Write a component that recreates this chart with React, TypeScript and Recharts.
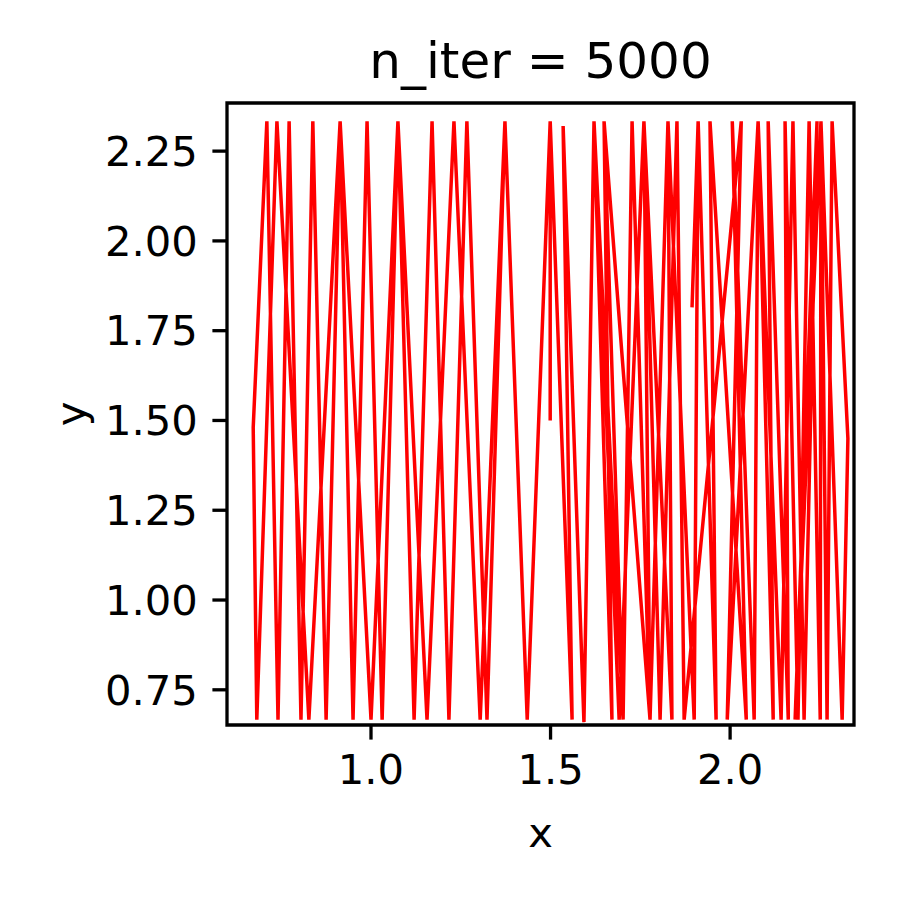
import { LineChart, Line, XAxis, YAxis, ReferenceArea } from "recharts";

// vertices of the trajectory, in drawing order
const pathX = [
  1.499,
  1.499, 1.435, 1.373, 1.323, 1.267, 1.217, 1.17, 1.12, 1.075, 1.031, 0.989, 0.95, 0.914, 0.875, 0.838, 0.805, 0.772, 0.741, 0.71,
  0.672,
  0.682, 0.738, 0.827, 0.914, 1.0, 1.075, 1.156, 1.231, 1.304, 1.373, 1.435, 1.499,
  1.56, 1.535, 1.593, 1.621, 1.671, 1.649, 1.702, 1.727, 1.777, 1.76, 1.838, 1.827, 1.9, 1.911, 1.961, 1.944, 2.045, 2.006,
  2.067, 2.078, 2.12, 2.106, 2.162, 2.153, 2.189, 2.22, 2.251, 2.253, 2.27, 2.284,
  2.328, 2.312,
  2.253, 2.181, 2.242, 2.206, 2.175, 2.142, 2.078, 1.992, 2.031, 1.872, 1.852, 1.805, 1.76, 1.691, 1.621, 1.702, 1.649, 1.777,
  1.827, 1.9, 1.911,
  1.894,
];

const pathY = [
  1.5,
  2.333, 0.667, 2.333, 0.667, 2.333, 0.667, 2.333, 0.667, 2.333, 0.667, 2.333, 0.667, 2.333, 0.667, 2.333, 0.667, 2.333, 0.667, 2.333,
  1.48,
  0.667, 2.333, 0.667, 2.333, 0.667, 2.333, 0.667, 2.333, 0.667, 2.333, 0.667, 2.333,
  0.667, 2.32, 0.66, 2.333, 0.667, 2.333, 0.667, 2.333, 0.667, 2.333, 0.667, 2.333, 0.667, 2.333, 0.667, 2.333, 0.667, 2.333,
  0.667, 2.333, 0.667, 2.333, 0.667, 2.333, 0.667, 2.333, 0.667, 2.333, 0.667, 2.333,
  1.45, 0.667,
  2.333, 0.667, 2.333, 0.667, 2.333, 0.667, 2.333, 0.667, 2.333, 0.667, 2.333, 0.667, 2.333, 0.667, 2.333, 0.667, 2.333, 0.667,
  2.333, 0.667, 2.333,
  1.815,
];

const xTicks = [1.0, 1.5, 2.0];
const yTicks = [0.75, 1.0, 1.25, 1.5, 1.75, 2.0, 2.25];
const xDomain = [0.599, 2.345];
const yDomain = [0.652, 2.384];

const FONT = "DejaVu Sans";
const tickStyle = { fontSize: 41.7, fill: "#000", fontFamily: FONT };

export default function App() {
  const data = pathX.map((x, i) => ({ x, y: pathY[i] }));

  return (
    <div style={{ position: "absolute", left: 0, top: 0, width: 900, height: 900, background: "#fff" }}>
      <svg width={900} height={100} style={{ position: "absolute", left: 0, top: 0 }}>
        <text x={540.5} y={78} textAnchor="middle" fontSize={50} fontFamily={FONT} fill="#000">
          n_iter = 5000
        </text>
      </svg>
      <LineChart
        width={900}
        height={900}
        data={data}
        margin={{ top: 103, right: 46, bottom: 0, left: 0 }}
        style={{ position: "absolute", left: 0, top: 0 }}
      >
        <XAxis
          dataKey="x"
          type="number"
          domain={xDomain}
          allowDataOverflow
          ticks={xTicks}
          tickFormatter={(v: number) => v.toFixed(1)}
          tick={tickStyle}
          tickSize={14.6}
          tickMargin={14.6}
          tickLine={{ stroke: "#000", strokeWidth: 3.3 }}
          axisLine={false}
          height={175}
          label={{
            content: (p: any) => (
              <text x={p.viewBox.x + p.viewBox.width / 2} y={847} textAnchor="middle" fontSize={41.7} fontFamily={FONT} fill="#000">
                x
              </text>
            ),
          }}
        />
        <YAxis
          dataKey="y"
          type="number"
          domain={yDomain}
          allowDataOverflow
          ticks={yTicks}
          tickFormatter={(v: number) => v.toFixed(2)}
          tick={tickStyle}
          tickSize={14.6}
          tickMargin={14.6}
          tickLine={{ stroke: "#000", strokeWidth: 3.3 }}
          axisLine={false}
          width={227}
          label={{
            content: (p: any) => {
              const cx = 70;
              const cy = p.viewBox.y + p.viewBox.height / 2;
              return (
                <text x={cx} y={cy} transform={`rotate(-90 ${cx} ${cy})`} textAnchor="middle" dominantBaseline="central"
                  fontSize={41.7} fontFamily={FONT} fill="#000">
                  y
                </text>
              );
            },
          }}
        />
        <Line
          type="linear"
          dataKey="y"
          stroke="#ff0000"
          strokeWidth={3.5}
          dot={false}
          activeDot={false}
          isAnimationActive={false}
        />
        {/* axes frame (all four spines) */}
        <ReferenceArea
          x1={xDomain[0]}
          x2={xDomain[1]}
          y1={yDomain[0]}
          y2={yDomain[1]}
          fill="none"
          fillOpacity={0}
          stroke="#000"
          strokeWidth={3.3}
          strokeOpacity={1}
          ifOverflow="visible"
        />
      </LineChart>
    </div>
  );
}
